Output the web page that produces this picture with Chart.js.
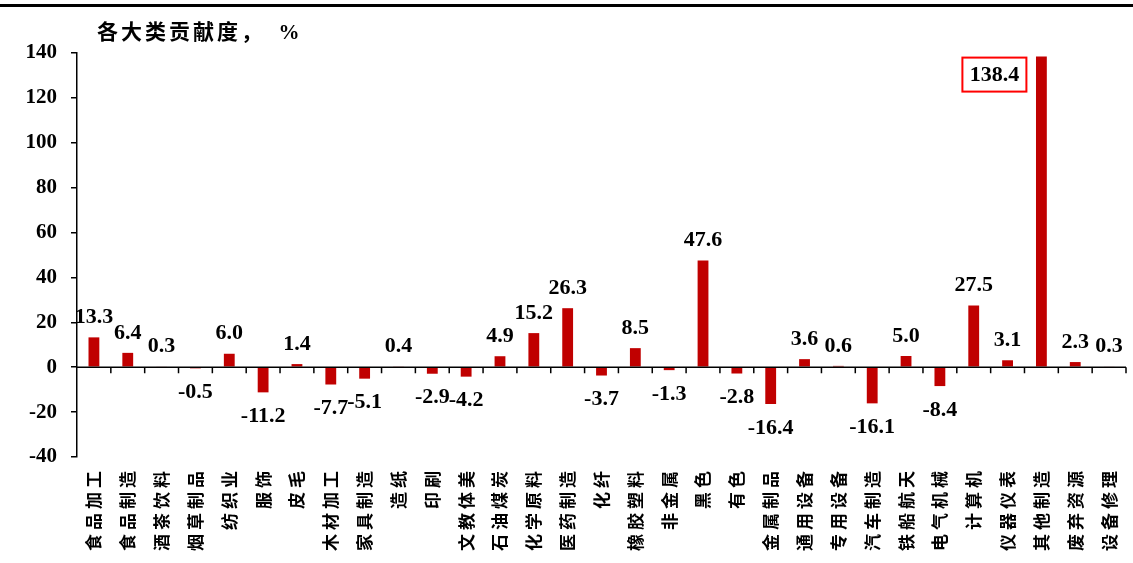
<!DOCTYPE html>
<html>
<head>
<meta charset="utf-8">
<script src="https://cdn.jsdelivr.net/npm/chart.js@4"></script>
<style>
  html, body { margin: 0; padding: 0; background: #fff; }
  #wrap { width: 1133px; height: 563px; position: relative; }
</style>
</head>
<body>
<div id="wrap"><canvas id="chart"></canvas></div>
<script>
// data
var categories = ['食品加工', '食品制造', '酒茶饮料', '烟草制品', '纺织业', '服饰', '皮毛',
  '木材加工', '家具制造', '造纸', '印刷', '文教体美', '石油煤炭', '化学原料', '医药制造',
  '化纤', '橡胶塑料', '非金属', '黑色', '有色', '金属制品', '通用设备', '专用设备',
  '汽车制造', '铁船航天', '电气机械', '计算机', '仪器仪表', '其他制造', '废弃资源', '设备修理'];
var contribution = [13.3, 6.4, 0.3, -0.5, 6.0, -11.2, 1.4,
  -7.7, -5.1, 0.4, -2.9, -4.2, 4.9, 15.2, 26.3,
  -3.7, 8.5, -1.3, 47.6, -2.8, -16.4, 3.6, 0.6,
  -16.1, 5.0, -8.4, 27.5, 3.1, 138.4, 2.3, 0.3];
var yMin = -40, yMax = 140, yStep = 20;
var chartTitle = '各大类贡献度，\u3000%';

var numFont = 'bold 22px "Liberation Serif", "Times New Roman", serif';
var cjkFamily = '"Noto Sans CJK SC", sans-serif';

// top rule + title, and spaced-out category labels
var framePlugin = {
  id: 'frame',
  beforeDraw: function(chart) {
    var ctx = chart.ctx;
    ctx.save();
    ctx.fillStyle = '#fff';
    ctx.fillRect(0, 0, chart.width, chart.height);
    ctx.fillStyle = '#000';
    ctx.fillRect(0, 4, chart.width, 3);
    ctx.letterSpacing = '3px';
    ctx.font = 'bold 21px "Liberation Serif", ' + cjkFamily;
    ctx.textAlign = 'left';
    ctx.textBaseline = 'middle';
    ctx.fillText(chartTitle, 97, 34);
    ctx.restore();

    var sc = chart.scales.x;
    if (sc && !sc._spaced) {
      var orig = sc.drawLabels;
      sc.drawLabels = function(area) {
        this.ctx.save();
        this.ctx.letterSpacing = '4px';
        orig.call(this, area);
        this.ctx.restore();
      };
      sc._spaced = true;
    }
  }
};

// horizontal axis line at zero with tick marks between categories
var zeroAxisPlugin = {
  id: 'zeroAxis',
  afterDatasetsDraw: function(chart) {
    var ctx = chart.ctx, x = chart.scales.x, y = chart.scales.y;
    var y0 = y.getPixelForValue(0);
    var area = chart.chartArea;
    ctx.save();
    ctx.strokeStyle = '#000';
    ctx.lineWidth = 1.5;
    ctx.beginPath();
    ctx.moveTo(area.left, y0);
    ctx.lineTo(area.right, y0);
    for (var i = 1; i <= categories.length; i++) {
      var px = i < categories.length
        ? (x.getPixelForValue(i - 1) + x.getPixelForValue(i)) / 2
        : area.right;
      ctx.moveTo(px, y0);
      ctx.lineTo(px, y0 + 6);
    }
    ctx.stroke();
    ctx.restore();
  }
};

// value labels, the biggest one boxed in red beside its bar
var valueLabelPlugin = {
  id: 'valueLabels',
  afterDatasetsDraw: function(chart) {
    var ctx = chart.ctx;
    var meta = chart.getDatasetMeta(0);
    var maxIdx = contribution.indexOf(Math.max.apply(null, contribution));
    ctx.save();
    ctx.font = numFont;
    ctx.fillStyle = '#000';
    ctx.textAlign = 'center';
    ctx.textBaseline = 'middle';
    meta.data.forEach(function(bar, i) {
      var v = contribution[i];
      var txt = v.toFixed(1);
      if (i === maxIdx) {
        var cx = bar.x - 47, cy = bar.y + 18;
        ctx.fillStyle = '#fff';
        ctx.fillRect(cx - 32, cy - 17, 64, 34);
        ctx.strokeStyle = '#ff0000';
        ctx.lineWidth = 2;
        ctx.strokeRect(cx - 32, cy - 17, 64, 34);
        ctx.fillStyle = '#000';
        ctx.fillText(txt, cx, cy + 1);
        return;
      }
      var ly = v >= 0 ? bar.y - 20 : bar.y + 24;
      ctx.fillText(txt, bar.x, ly);
    });
    ctx.restore();
  }
};

var ctx = document.getElementById('chart');
var chart = new Chart(ctx, {
  type: 'bar',
  data: {
    labels: categories,
    datasets: [{
      label: '贡献度',
      data: contribution,
      backgroundColor: '#C00000',
      borderWidth: 0,
      barPercentage: 0.32,
      categoryPercentage: 1
    }]
  },
  options: {
    responsive: true,
    maintainAspectRatio: false,
    animation: false,
    layout: { padding: { top: 53, right: 7, left: 0, bottom: 0 } },
    plugins: {
      legend: { display: false },
      tooltip: { enabled: false },
      title: { display: false }
    },
    scales: {
      x: {
        offset: true,
        grid: { display: false, drawTicks: false },
        border: { display: false },
        ticks: {
          autoSkip: false,
          minRotation: 90,
          maxRotation: 90,
          padding: 10,
          color: '#000',
          font: { family: cjkFamily, size: 17, weight: 'bold' }
        },
        afterFit: function(s) {
          s.height = 106;
          s.paddingLeft = 0;
          s.paddingRight = 0;
        }
      },
      y: {
        min: yMin,
        max: yMax,
        ticks: {
          stepSize: yStep,
          padding: 14,
          color: '#000',
          font: { family: '"Liberation Serif", "Times New Roman", serif', size: 21, weight: 'bold' }
        },
        grid: { drawOnChartArea: false, color: '#000', lineWidth: 1.5, tickLength: 6 },
        border: { color: '#000', width: 1.5 },
        afterFit: function(s) { s.width = 77; }
      }
    }
  },
  plugins: [framePlugin, zeroAxisPlugin, valueLabelPlugin]
});
</script>
</body>
</html>
